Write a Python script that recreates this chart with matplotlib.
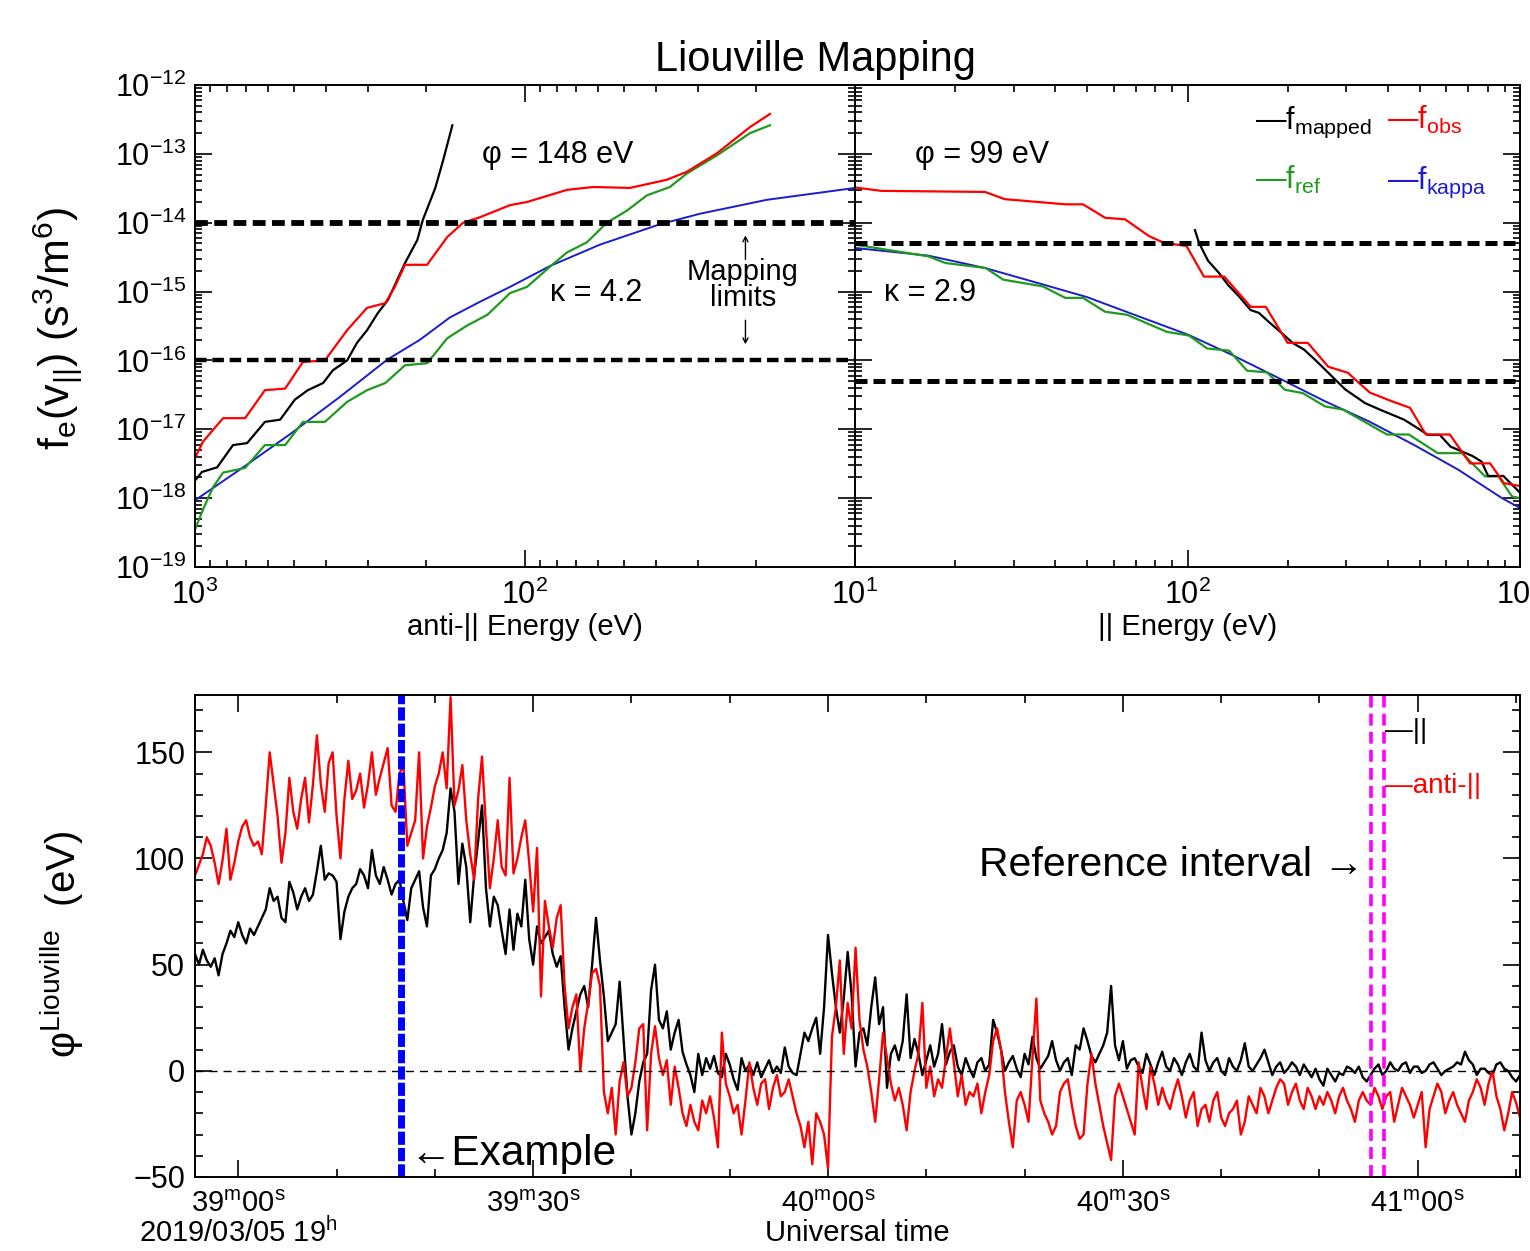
import numpy as np
import matplotlib
matplotlib.use("Agg")
import matplotlib.pyplot as plt
import matplotlib.transforms as mtransforms
from matplotlib.ticker import LogLocator, FuncFormatter, MultipleLocator, FixedLocator, NullFormatter

plt.rcParams['font.family'] = ['Liberation Sans', 'DejaVu Sans']
plt.rcParams['mathtext.fontset'] = 'custom'
plt.rcParams['mathtext.rm'] = 'Liberation Sans'
plt.rcParams['mathtext.it'] = 'Liberation Sans:italic'
plt.rcParams['mathtext.bf'] = 'Liberation Sans:bold'
plt.rcParams['mathtext.default'] = 'regular'
plt.rcParams['axes.linewidth'] = 1.4

# ---- top panels: distribution functions (energy eV, f in s^3/m^6) ----
# anti-parallel side
anti_obs_E = [1000, 946, 822, 705, 614, 533, 471, 404, 346, 301, 265, 248, 231, 198,
              172, 154, 137, 111, 98.6, 74.6, 62.2, 48.1, 37.2, 32.3, 26.2, 20.8, 18.1]
anti_obs_f = [3.8e-18, 6.6e-18, 1.45e-17, 1.45e-17, 3.7e-17, 3.9e-17, 9.5e-17, 1.0e-16,
              2.75e-16, 5.8e-16, 6.8e-16, 1.17e-15, 2.45e-15, 2.45e-15, 6.2e-15, 1.0e-14,
              1.2e-14, 1.8e-14, 2.0e-14, 3.0e-14, 3.3e-14, 3.2e-14, 4.2e-14, 5.5e-14,
              1.02e-13, 2.45e-13, 3.8e-13]
anti_map_E = [1000, 953, 857, 767, 695, 614, 552, 498, 455, 409, 382, 346, 323, 301,
              279, 260, 231, 212, 204, 187, 177, 166]
anti_map_f = [1.8e-18, 2.4e-18, 2.8e-18, 5.9e-18, 6.3e-18, 1.28e-17, 1.38e-17, 2.7e-17,
              3.7e-17, 4.7e-17, 7.2e-17, 1.0e-16, 1.8e-16, 2.75e-16, 4.9e-16, 7.6e-16,
              2.6e-15, 5.6e-15, 1.1e-14, 3.2e-14, 8.1e-14, 2.6e-13]
anti_ref_E = [1000, 946, 881, 822, 705, 614, 533, 471, 404, 346, 301, 265, 231, 198, 172,
              150, 130, 111, 98.6, 84, 74.6, 64.9, 56.5, 49.1, 42.7, 36.4, 32.3, 26.2,
              20.8, 18.1]
anti_ref_f = [3.5e-19, 6.8e-19, 1.45e-18, 2.35e-18, 2.75e-18, 5.9e-18, 5.9e-18, 1.28e-17,
              1.28e-17, 2.5e-17, 3.7e-17, 4.7e-17, 8.5e-17, 9.1e-17, 2.1e-16, 3.2e-16,
              4.6e-16, 9.5e-16, 1.17e-15, 2.3e-15, 3.7e-15, 5.2e-15, 1.0e-14, 1.5e-14,
              2.5e-14, 3.3e-14, 5.2e-14, 9.5e-14, 2.0e-13, 2.6e-13]
anti_kap_E = [1000, 731, 515, 364, 262, 208, 169, 137, 111, 84, 59.3, 39.0, 29.5, 18.5, 10]
anti_kap_f = [9.3e-19, 2.6e-18, 8.5e-18, 2.95e-17, 1.02e-16, 2.0e-16, 4.2e-16, 7.1e-16,
              1.17e-15, 2.35e-15, 4.8e-15, 9.5e-15, 1.35e-14, 2.15e-14, 3.2e-14]

# parallel side
par_obs_E = [10, 12.0, 24.6, 28.2, 42.9, 48.5, 56.5, 64.9, 76.6, 84.9, 99.3, 112, 129,
             155, 172, 200, 230, 265, 304, 328, 354, 412, 467, 521, 615, 708, 813, 895, 1000]
par_obs_f = [3.25e-14, 2.9e-14, 2.8e-14, 2.2e-14, 1.85e-14, 1.85e-14, 1.18e-14, 1.12e-14,
             6.4e-15, 5.1e-15, 4.6e-15, 1.65e-15, 1.65e-15, 6.0e-16, 6.0e-16, 1.8e-16,
             1.8e-16, 8.1e-17, 6.6e-17, 4.7e-17, 3.4e-17, 2.55e-17, 2.05e-17, 8.4e-18,
             8.4e-18, 3.2e-18, 3.2e-18, 1.65e-18, 1.5e-18]
par_map_E = [105.3, 108.3, 115.3, 124.4, 132.4, 142.9, 154.7, 164, 177, 192, 207, 224,
             242, 259, 298, 342, 379, 448, 500, 528, 574, 618, 719, 766, 802, 891, 1000]
par_map_f = [7.8e-15, 5.1e-15, 2.8e-15, 1.86e-15, 1.25e-15, 8.5e-16, 5.4e-16, 4.9e-16,
             3.5e-16, 2.5e-16, 1.8e-16, 1.44e-16, 1.02e-16, 7.4e-17, 3.8e-17, 2.4e-17,
             1.93e-17, 1.38e-17, 9.9e-18, 8.3e-18, 8.3e-18, 5.6e-18, 4.1e-18, 3.4e-18,
             2.1e-18, 2.1e-18, 1.2e-18]
par_ref_E = [10, 16.6, 18.7, 24.7, 27.9, 36.7, 42.9, 48.5, 56.5, 65.8, 86.7, 101, 114.6,
             133.4, 151, 173.4, 196.3, 222.3, 259.2, 293.8, 398, 463, 566, 670, 785, 861,
             946, 1000]
par_ref_f = [4.8e-15, 3.25e-15, 2.6e-15, 2.2e-15, 1.49e-15, 1.19e-15, 8.1e-16, 8.1e-16,
             5.1e-16, 4.6e-16, 2.6e-16, 2.3e-16, 1.49e-16, 1.39e-16, 7.1e-17, 6.7e-17,
             3.75e-17, 3.35e-17, 2.15e-17, 1.93e-17, 8.4e-18, 8.4e-18, 4.5e-18, 4.5e-18,
             2.07e-18, 2.07e-18, 1.06e-18, 1.0e-18]
par_kap_E = [10, 16.6, 24.6, 35.5, 49.9, 71.9, 100.7, 133.4, 196.3, 259.2, 351.6, 478.6,
             651, 883, 1000]
par_kap_f = [4.3e-15, 3.33e-15, 2.2e-15, 1.33e-15, 8.3e-16, 4.3e-16, 2.35e-16, 1.26e-16,
             5.0e-17, 2.55e-17, 1.3e-17, 5.97e-18, 2.6e-18, 1.0e-18, 7.2e-19]

anti_limits = [1e-16, 1e-14]
par_limits = [5e-17, 5e-15]
anti_phi, par_phi = 148, 99
anti_kappa, par_kappa = 4.2, 2.9
f_ticks = [1e-19, 1e-18, 1e-17, 1e-16, 1e-15, 1e-14, 1e-13, 1e-12]
energy_ticks = [10, 100, 1000]

# ---- bottom panel: potential time series (s after 19:39:00 UT) ----
t_start = -4.4
t_step = 0.4
phi_par = [
    55, 50, 57, 52, 49, 53, 45, 55, 60, 66, 63,
    70, 64, 60, 67, 64, 68, 72, 76, 86, 80, 82, 72, 70, 89, 84, 76, 82, 86, 80, 83, 94, 106, 90, 93, 92,
    89, 62, 75, 82, 86, 88, 95, 92, 86, 104, 92, 88, 96, 90, 83, 88, 90, 80, 71, 86, 90, 94, 77, 68, 92,
    95, 100, 104, 112, 133, 122, 88, 107, 96, 70, 92, 108, 125, 86, 68, 82, 78, 66, 55, 76, 57, 74, 68, 90, 62,
    50, 68, 60, 63, 66, 55, 49, 54, 30, 10, 20, 28, 36, 40, 30, 50, 72, 52, 35, 14, 18, 22, 42, 15, -12,
    -30, -20, -5, 4, 8, 38, 50, 24, 20, 28, 10, 18, 24, 9, 3, -2, -10, 8, -2, 6, 1, 7, -1, -3, 8,
    3, -4, -9, 6, 0, 3, -2, 4, -3, 1, 5, -1, 2, -1, 11, 2, -1, -2, 8, 18, 14, 20, 25, 8, 30,
    64, 46, 30, 18, 34, 56, 36, 2, 18, 20, 12, 30, 44, 22, 30, -8, 8, 12, 5, 14, 36, 6, 15, 8, -2,
    5, 12, 2, 8, 22, 3, 9, 12, 2, -2, 6, 1, -3, 4, 6, 0, 3, 24, 18, 10, 0, 4, 7, 1, -3,
    8, 3, 16, 6, 1, 4, 7, 14, 5, 0, 4, 6, -2, 12, 10, 20, 14, 7, 4, 8, 12, 18, 40, 12, 5,
    14, 1, 5, 6, 2, -1, 8, 3, -2, 4, 9, 2, 0, 6, 3, -2, 4, 8, 2, 0, 18, 5, 0, 4, 6,
    0, -2, 6, 2, 0, 5, 13, 2, 0, 3, 6, 10, 4, -2, 2, 4, -1, 1, 4, 2, -2, 3, 0, -3, 1,
    -4, -7, 1, -2, -5, -1, -2, 2, 1, -1, 2, -3, -5, -2, 1, 3, -2, 0, 4, 1, 0, 3, 4, -1, 2,
    2, -1, 0, 3, 4, 1, -2, 0, 1, 2, 4, 3, 9, 5, 3, -2, 1, 1, -1, -2, 3, 4, 1, 0, -3,
    -5, -2,
]
phi_anti = [
    92, 97, 102, 110, 106, 98, 88, 99, 114, 90, 98,
    108, 115, 118, 110, 106, 108, 102, 125, 150, 135, 120, 98, 112, 138, 122, 114, 128, 138, 117, 135, 158, 135, 122, 145, 150,
    120, 100, 128, 146, 128, 132, 140, 124, 135, 150, 130, 138, 145, 152, 125, 122, 140, 144, 106, 112, 118, 150, 100, 115, 124,
    134, 140, 150, 133, 176, 125, 132, 144, 118, 102, 90, 128, 148, 115, 86, 100, 118, 96, 92, 138, 93, 100, 110, 118, 98,
    75, 105, 35, 80, 68, 58, 72, 78, 40, 20, 30, 36, 0, 20, 32, 46, 48, 40, -10, -20, -8, -30, -5, 4, -12,
    -8, 4, 20, 22, -28, 8, 21, 6, -2, 5, -16, 2, -8, -20, -26, -16, -24, -28, -14, -20, -12, -22, -36, 18, -6,
    -12, -20, -16, -30, -14, 4, -8, -16, -6, -4, -18, -8, -2, -12, -10, -4, -12, -20, -26, -36, -24, -44, -20, -24, -30,
    -46, 16, 30, 52, 8, 32, 20, 58, 24, 10, 2, -10, -24, -4, 18, 6, -6, -14, -8, -16, -28, -10, 0, 8, 32,
    -8, 2, -12, -4, -8, 6, 20, 4, -12, -2, -16, -10, -12, -6, -20, -10, -2, 14, 20, 10, -10, -24, -36, -14, -10,
    -16, -24, 6, 34, -14, -20, -24, -30, -26, -10, -6, -4, -16, -26, -32, -30, -6, 8, -6, -16, -26, -34, -42, -12, -6,
    -12, -18, -24, -30, 4, -8, -18, 2, -6, -16, -8, -14, -18, -10, -4, -12, -22, -14, -10, -26, -18, -16, -24, -14, -10,
    -22, -26, -20, -18, -14, -30, -24, -12, -16, -20, -8, -12, -20, -14, -8, -4, -6, -16, -10, -6, -14, -18, -8, -12, -18,
    -12, -16, -10, -14, -20, -12, -8, -14, -18, -24, -14, -10, -14, -16, -8, -12, -18, -12, -10, -24, -16, -8, -12, -16, -22,
    -16, -10, -36, -18, -12, -6, -10, -20, -14, -10, -16, -20, -24, -14, -10, -4, -8, -16, -6, 0, -12, -18, -28, -20, -10,
    -15, -22,
]
example_t = 16.6
ref_interval = [115.2, 116.6]
time_ticks = [0, 30, 60, 90, 120]
time_labels = ["39$^{m}$00$^{s}$", "39$^{m}$30$^{s}$",
               "40$^{m}$00$^{s}$", "40$^{m}$30$^{s}$", "41$^{m}$00$^{s}$"]
date_label = "2019/03/05 19$^{h}$"

RED = '#ff0000'
GREEN = '#1f9a1f'
BLUE = '#1c1ccc'


def pow10(v, pos):
    return r'$10^{%d}$' % int(round(np.log10(v)))


def pow10_no_first(v, pos):
    e = int(round(np.log10(v)))
    return '' if e == 1 else r'$10^{%d}$' % e


fig = plt.figure(figsize=(15.3, 12.51), dpi=100)
W, H = 1530.0, 1251.0
ax_l = fig.add_axes([195 / W, 1 - 567 / H, 660 / W, 482 / H])
ax_r = fig.add_axes([855 / W, 1 - 567 / H, 665 / W, 482 / H])
ax_b = fig.add_axes([195 / W, 1 - 1177 / H, 1325 / W, 482 / H])

for ax in (ax_l, ax_r):
    ax.set_xscale('log')
    ax.set_yscale('log')
    ax.set_ylim(1e-19, 1e-12)
    ax.yaxis.set_major_locator(FixedLocator(f_ticks))
    ax.yaxis.set_minor_locator(LogLocator(base=10, subs=np.arange(2, 10), numticks=20))
    ax.xaxis.set_major_locator(FixedLocator(energy_ticks))
    ax.xaxis.set_minor_locator(LogLocator(base=10, subs=np.arange(2, 10), numticks=10))
    ax.xaxis.set_minor_formatter(NullFormatter())
    ax.yaxis.set_minor_formatter(NullFormatter())
    ax.tick_params(which='both', direction='in', top=True, right=True, width=1.2,
                   labelsize=22)
    ax.tick_params(which='major', length=12)
    ax.tick_params(which='minor', length=5)
    ax.tick_params(axis='x', pad=9)
    ax.tick_params(axis='y', pad=6)

ax_l.set_xlim(1000, 10)
ax_r.set_xlim(10, 1000)
ax_l.xaxis.set_major_formatter(FuncFormatter(pow10))
ax_l.yaxis.set_major_formatter(FuncFormatter(pow10))
ax_r.xaxis.set_major_formatter(FuncFormatter(pow10_no_first))
ax_r.tick_params(labelleft=False)

# anti-parallel panel
ax_l.plot(anti_kap_E, anti_kap_f, color=BLUE, lw=1.4)
ax_l.plot(anti_ref_E, anti_ref_f, color=GREEN, lw=1.6)
ax_l.plot(anti_map_E, anti_map_f, color='black', lw=1.6)
ax_l.plot(anti_obs_E, anti_obs_f, color=RED, lw=1.6)
ax_l.axhline(anti_limits[1], color='black', lw=4.2, ls=(0, (2.2, 1.1)))
ax_l.axhline(anti_limits[0], color='black', lw=3.2, ls=(0, (2.6, 1.3)))

# parallel panel
ax_r.plot(par_kap_E, par_kap_f, color=BLUE, lw=1.4)
ax_r.plot(par_ref_E, par_ref_f, color=GREEN, lw=1.6)
ax_r.plot(par_map_E, par_map_f, color='black', lw=1.6)
ax_r.plot(par_obs_E, par_obs_f, color=RED, lw=1.6)
ax_r.axhline(par_limits[1], color='black', lw=3.6, ls=(0, (2.4, 1.2)))
ax_r.axhline(par_limits[0], color='black', lw=3.6, ls=(0, (2.4, 1.2)))

ax_l.text(0.435, 0.855, 'φ = %d eV' % anti_phi, transform=ax_l.transAxes,
          fontsize=22, va='center', ha='left')
ax_l.text(0.538, 0.568, 'κ = %.1f' % anti_kappa, transform=ax_l.transAxes,
          fontsize=22, va='center', ha='left')
ax_l.text(0.83, 0.585, 'Mapping\nlimits', transform=ax_l.transAxes, fontsize=21,
          va='center', ha='center', linespacing=0.95)
arrow_style = dict(arrowstyle='->,head_length=0.35,head_width=0.18', lw=1.0,
                   color='black', shrinkA=0, shrinkB=0)
ax_l.annotate('', xy=(0.834, 0.688), xytext=(0.834, 0.638), xycoords='axes fraction',
              textcoords='axes fraction', arrowprops=arrow_style)
ax_l.annotate('', xy=(0.834, 0.462), xytext=(0.834, 0.512), xycoords='axes fraction',
              textcoords='axes fraction', arrowprops=arrow_style)

ax_r.text(0.09, 0.855, 'φ = %d eV' % par_phi, transform=ax_r.transAxes,
          fontsize=22, va='center', ha='left')
ax_r.text(0.044, 0.568, 'κ = %.1f' % par_kappa, transform=ax_r.transAxes,
          fontsize=22, va='center', ha='left')

legend_items = [('—f$_{mapped}$', 'black', 0.602, 0.908),
                ('—f$_{obs}$', RED, 0.80, 0.908),
                ('—f$_{ref}$', GREEN, 0.602, 0.785),
                ('—f$_{kappa}$', BLUE, 0.80, 0.785)]
for txt, col, x, y in legend_items:
    ax_r.text(x, y, txt, color=col, transform=ax_r.transAxes, fontsize=22,
              ha='left', va='baseline')

ax_l.set_xlabel('anti-|| Energy (eV)', fontsize=21)
ax_l.xaxis.set_label_coords(0.5, -0.095)
ax_r.set_xlabel('|| Energy (eV)', fontsize=21)
ax_r.xaxis.set_label_coords(0.5, -0.095)

fig.text(815 / W, 1 - 60 / H, 'Liouville Mapping', fontsize=30, ha='center', va='center')
fig.text(58 / W, 1 - 328 / H, r'f$_{e}$(v$_{||}$) (s$^{3}$/m$^{6}$)', fontsize=31,
         rotation=90, ha='center', va='center')

# ---- bottom panel ----
t = t_start + t_step * np.arange(len(phi_par))
ax_b.plot(t, phi_par, color='black', lw=1.7)
ax_b.plot(t, phi_anti, color=RED, lw=1.7)
ax_b.axhline(0, color='black', lw=1.0, ls=(0, (5.8, 4.3)))
ax_b.axvline(example_t, color='#0000ff', lw=5, ls=(0, (1.9, 0.45)))
for tr in ref_interval:
    ax_b.axvline(tr, color='#ff00ff', lw=2.6, ls=(0, (3.3, 1.7)))

ax_b.set_xlim(-4.4, 130.4)
ax_b.set_ylim(-50, 177)
ax_b.xaxis.set_major_locator(FixedLocator(time_ticks))
ax_b.set_xticklabels(time_labels)
ax_b.xaxis.set_minor_locator(MultipleLocator(10))
ax_b.yaxis.set_major_locator(MultipleLocator(50))
ax_b.yaxis.set_minor_locator(MultipleLocator(10))
ax_b.tick_params(which='both', direction='in', top=True, right=True, width=1.2)
ax_b.tick_params(which='major', length=12)
ax_b.tick_params(which='minor', length=6)
ax_b.tick_params(axis='x', labelsize=21, pad=9)
ax_b.tick_params(axis='y', labelsize=22, pad=7)

# date line under the first time label
blend = mtransforms.blended_transform_factory(ax_b.transData, ax_b.transAxes)
ax_b.text(time_ticks[0], -0.116, date_label, transform=blend, fontsize=21,
          ha='center', va='center')
ax_b.text(0.5, -0.116, 'Universal time', transform=ax_b.transAxes, fontsize=21,
          ha='center', va='center')
ax_b.text(ref_interval[0] - 0.6, 97, 'Reference interval →', fontsize=29.5,
          ha='right', va='center')
ax_b.text(example_t + 0.8, -39, '←Example', fontsize=30.5, ha='left', va='center')
ax_b.text(ref_interval[1] + 0.1, 160, '—||', fontsize=20, color='black',
          ha='left', va='center')
ax_b.text(ref_interval[1] + 0.1, 134, '—anti-||', fontsize=20, color=RED,
          ha='left', va='center')

fig.text(62 / W, 1 - 944 / H, 'φ$^{Liouville}$  (eV)', fontsize=29, rotation=90,
         ha='center', va='center')

fig.savefig('out.png', dpi=100)
